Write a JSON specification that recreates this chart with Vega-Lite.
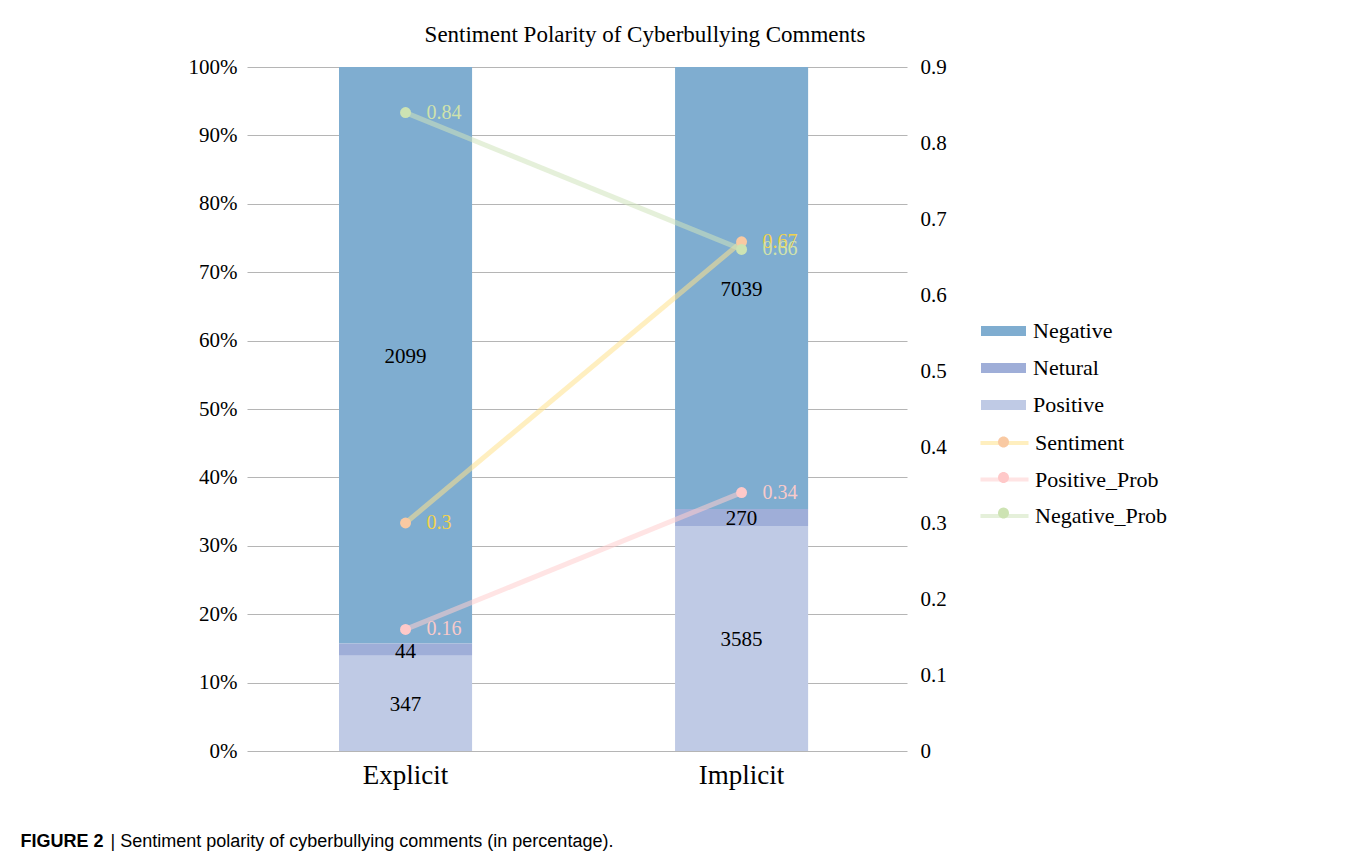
{
  "$schema": "https://vega.github.io/schema/vega-lite/v6.json",
  "autosize": {"type": "none"},
  "width": 660,
  "height": 684,
  "padding": {"left": 247, "top": 67, "right": 445, "bottom": 107},
  "background": "white",
  "config": {"view": {"stroke": null}},
  "title": {
    "text": "Sentiment Polarity of Cyberbullying Comments",
    "font": "Liberation Serif",
    "fontSize": 23,
    "fontWeight": "normal",
    "color": "#000000",
    "anchor": "middle",
    "dx": 68,
    "offset": 9
  },
  "datasets": {
    "bars": [
      {"group": "Explicit", "segment": "Negative", "count": 2099},
      {"group": "Explicit", "segment": "Netural", "count": 44},
      {"group": "Explicit", "segment": "Positive", "count": 347},
      {"group": "Implicit", "segment": "Negative", "count": 7039},
      {"group": "Implicit", "segment": "Netural", "count": 270},
      {"group": "Implicit", "segment": "Positive", "count": 3585}
    ],
    "lines": [
      {"group": "Explicit", "series": "Sentiment", "value": 0.3},
      {"group": "Implicit", "series": "Sentiment", "value": 0.67},
      {"group": "Explicit", "series": "Positive_Prob", "value": 0.16},
      {"group": "Implicit", "series": "Positive_Prob", "value": 0.34},
      {"group": "Explicit", "series": "Negative_Prob", "value": 0.84},
      {"group": "Implicit", "series": "Negative_Prob", "value": 0.66}
    ]
  },
  "layer": [
    {
      "data": {"name": "bars"},
      "encoding": {
        "x": {
          "field": "group", "type": "nominal",
          "scale": {"paddingInner": 0.604, "paddingOuter": 0.284, "align": 0.482},
          "axis": {
            "labelAngle": 0, "labelFont": "Liberation Serif", "labelFontSize": 27, "labelColor": "#000000",
            "labelPadding": 11, "domain": false, "ticks": false,
            "title": "FIGURE 2", "titleFont": "Liberation Sans", "titleFontSize": 18, "titleFontWeight": "bold",
            "titleColor": "#000000", "titleX": -227, "titleY": 95, "titleAlign": "left", "titleBaseline": "alphabetic"
          }
        }
      },
      "layer": [
        {
          "mark": {"type": "bar"},
          "encoding": {
            "y": {
              "field": "count", "type": "quantitative", "stack": "normalize",
              "scale": {"domain": [0, 1]},
              "axis": {
                "orient": "left", "values": [0, 0.1, 0.2, 0.3, 0.4, 0.5, 0.6, 0.7, 0.8, 0.9, 1], "format": ".0%",
                "grid": true, "gridColor": "#b5b5b5", "gridWidth": 1.2, "domain": false, "ticks": false,
                "labelPadding": 10, "labelFont": "Liberation Serif", "labelFontSize": 21, "labelColor": "#000000",
                "title": "|  Sentiment polarity of cyberbullying comments (in percentage).",
                "titleAngle": 0, "titleX": -137, "titleY": 779, "titleAlign": "left", "titleBaseline": "alphabetic",
                "titleFont": "Liberation Sans", "titleFontSize": 18, "titleFontWeight": "normal", "titleColor": "#000000"
              }
            },
            "color": {
              "field": "segment", "type": "nominal",
              "scale": {"domain": ["Negative", "Netural", "Positive"], "range": ["#7FADD0", "#9FAED8", "#BFCAE5"]},
              "legend": {
                "title": null, "orient": "none", "legendX": 745.5, "legendY": 253, "padding": 0,
                "symbolType": "M-2.25,-0.5H2.25V0.5H-2.25Z", "symbolSize": 400, "symbolStrokeWidth": 0, "symbolOpacity": 1,
                "labelFont": "Liberation Serif", "labelFontSize": 22, "labelColor": "#000000", "labelOffset": 18.5,
                "rowPadding": 15
              }
            },
            "order": {"field": "segment", "sort": "descending"}
          }
        },
        {
          "mark": {"type": "text", "font": "Liberation Serif", "fontSize": 21, "color": "#000000", "baseline": "middle", "dy": 2},
          "encoding": {
            "y": {
              "field": "count", "type": "quantitative", "stack": "normalize", "bandPosition": 0.5,
              "scale": {"domain": [0, 1]},
              "axis": {
                "orient": "left", "values": [0, 0.1, 0.2, 0.3, 0.4, 0.5, 0.6, 0.7, 0.8, 0.9, 1], "format": ".0%",
                "grid": true, "gridColor": "#b5b5b5", "gridWidth": 1.2, "domain": false, "ticks": false,
                "labelPadding": 10, "labelFont": "Liberation Serif", "labelFontSize": 21, "labelColor": "#000000",
                "title": "|  Sentiment polarity of cyberbullying comments (in percentage).",
                "titleAngle": 0, "titleX": -137, "titleY": 779, "titleAlign": "left", "titleBaseline": "alphabetic",
                "titleFont": "Liberation Sans", "titleFontSize": 18, "titleFontWeight": "normal", "titleColor": "#000000"
              }
            },
            "detail": {"field": "segment", "type": "nominal"},
            "order": {"field": "segment", "sort": "descending"},
            "text": {"field": "count", "type": "quantitative", "format": "d"}
          }
        }
      ]
    },
    {
      "data": {"name": "lines"},
      "encoding": {
        "x": {
          "field": "group", "type": "nominal",
          "scale": {"paddingInner": 0.604, "paddingOuter": 0.284, "align": 0.482},
          "axis": {
            "labelAngle": 0, "labelFont": "Liberation Serif", "labelFontSize": 27, "labelColor": "#000000",
            "labelPadding": 11, "domain": false, "ticks": false,
            "title": "FIGURE 2", "titleFont": "Liberation Sans", "titleFontSize": 18, "titleFontWeight": "bold",
            "titleColor": "#000000", "titleX": -227, "titleY": 95, "titleAlign": "left", "titleBaseline": "alphabetic"
          }
        },
        "y": {
          "field": "value", "type": "quantitative",
          "scale": {"domain": [0, 0.9]},
          "axis": {
            "orient": "right", "values": [0, 0.1, 0.2, 0.3, 0.4, 0.5, 0.6, 0.7, 0.8, 0.9], "format": ".1~f",
            "grid": false, "domain": false, "ticks": false, "labelPadding": 13,
            "labelFont": "Liberation Serif", "labelFontSize": 21, "labelColor": "#000000", "title": null
          }
        }
      },
      "layer": [
        {
          "mark": {"type": "line", "strokeWidth": 5, "opacity": 0.55},
          "encoding": {
            "color": {
              "field": "series", "type": "nominal",
              "scale": {"domain": ["Sentiment", "Positive_Prob", "Negative_Prob"], "range": ["#FFE28C", "#FFCECE", "#D0E4BC"]},
              "legend": {
                "title": null, "orient": "none", "legendX": 745.5, "legendY": 364, "padding": 0,
                "symbolType": "M-2.4,0H2.4", "symbolSize": 400, "symbolStrokeWidth": 4, "symbolOpacity": 0.55,
                "labelFont": "Liberation Serif", "labelFontSize": 22, "labelColor": "#000000", "labelOffset": 18.5,
                "rowPadding": 13.5
              }
            }
          }
        },
        {
          "mark": {"type": "point", "filled": true, "size": 120, "opacity": 1},
          "encoding": {
            "color": {
              "field": "series", "type": "nominal",
              "scale": {"domain": ["Sentiment", "Positive_Prob", "Negative_Prob"], "range": ["#F9C9A2", "#FFC9C9", "#CDE3B3"]},
              "legend": {
                "title": null, "orient": "none", "legendX": 745.5, "legendY": 364, "padding": 0,
                "symbolType": "M0.55,0A0.55,0.55,0,1,1,-0.55,0A0.55,0.55,0,1,1,0.55,0Z", "symbolSize": 400,
                "symbolStrokeWidth": 0, "symbolOpacity": 1,
                "labelFont": "Liberation Serif", "labelFontSize": 22, "labelColor": "#000000", "labelOpacity": 0,
                "labelExpr": "' '", "labelOffset": 18.5, "rowPadding": 13.5
              }
            }
          }
        },
        {
          "mark": {"type": "text", "align": "left", "baseline": "middle", "dx": 21, "font": "Liberation Serif", "fontSize": 20},
          "encoding": {
            "color": {
              "field": "series", "type": "nominal",
              "scale": {"domain": ["Sentiment", "Positive_Prob", "Negative_Prob"], "range": ["#F2D34C", "#F8CACA", "#CFE2AC"]},
              "legend": null
            },
            "text": {"field": "value", "type": "quantitative", "format": ".2~f"}
          }
        }
      ],
      "resolve": {"scale": {"color": "independent"}}
    }
  ],
  "resolve": {"scale": {"y": "independent", "color": "independent"}}
}
